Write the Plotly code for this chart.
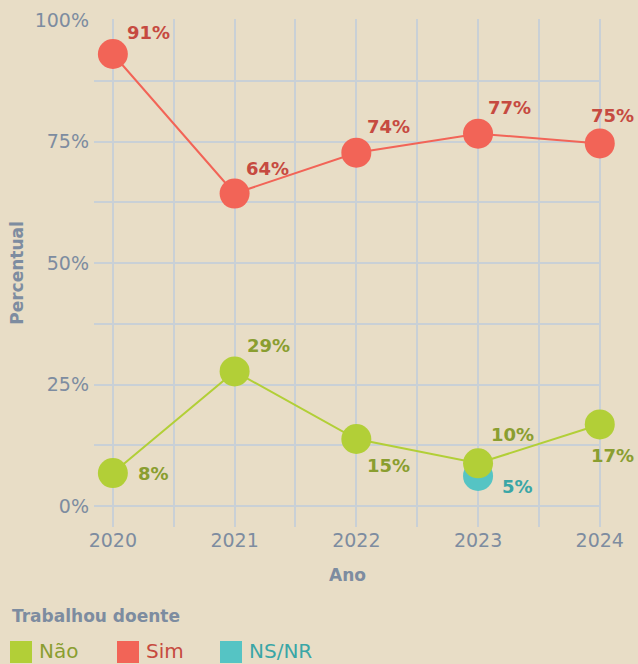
import plotly.graph_objects as go

years = [2020, 2021, 2022, 2023, 2024]
sim_values = [93.0, 64.3, 72.7, 76.6, 74.6]
sim_labels = ["91%", "64%", "74%", "77%", "75%"]
nao_values = [6.8, 27.7, 13.8, 8.8, 16.8]
nao_labels = ["8%", "29%", "15%", "10%", "17%"]
nsnr_years = [2023]
nsnr_values = [6.2]
nsnr_labels = ["5%"]
legend_names = ["Não", "Sim", "NS/NR"]
legend_title = "Trabalhou doente"

BG = "#e8ddc6"
GRID = "#c9d0d6"
AXIS_TXT = "#7d8ca0"
SIM_C, SIM_T = "#f26457", "#c64a40"
NAO_C, NAO_T = "#b2cf37", "#8a9e30"
NS_C, NS_T = "#55c4c4", "#3aa6a6"
FONT = "DejaVu Sans"

W, H = 638, 664
ML, MR, MT, MB = 94, 37, 19, 137
PW, PH = W - ML - MR, H - MT - MB

def px2paper_x(px):
    return (px - ML) / PW

def px2paper_y(py):
    return (H - MB - py) / PH

# label offsets in pixels (style)
sim_off = [(12, 22), (9, 25), (9, 26), (8, 26), (-11, 28)]
nao_off = [(23, 0), (10, 26), (9, -26), (11, 29), (-11, -31)]
ns_off = [(22, -11)]

fig = go.Figure()

def add_series(xs, ys, color, name):
    fig.add_trace(go.Scatter(
        x=xs, y=ys, mode="lines+markers", name=name, showlegend=False,
        line=dict(color=color, width=2),
        marker=dict(color=color, size=30, line=dict(width=0)),
        cliponaxis=False, hoverinfo="skip"))

add_series(nsnr_years, nsnr_values, NS_C, "NS/NR")
add_series(years, sim_values, SIM_C, "Sim")
add_series(years, nao_values, NAO_C, "Não")

annotations = []
def add_labels(xs, ys, labels, offs, color):
    for x, y, t, (dx, dy) in zip(xs, ys, labels, offs):
        annotations.append(dict(
            x=x, y=y, xref="x", yref="y", text=t, showarrow=False,
            xanchor="left", yanchor="middle", xshift=dx, yshift=dy,
            font=dict(family=FONT, size=18, color=color, weight="bold")))

add_labels(years, sim_values, sim_labels, sim_off, SIM_T)
add_labels(years, nao_values, nao_labels, nao_off, NAO_T)
add_labels(nsnr_years, nsnr_values, nsnr_labels, ns_off, NS_T)

# legend (drawn manually)
annotations.append(dict(
    x=px2paper_x(10), y=px2paper_y(616), xref="paper", yref="paper",
    xanchor="left", yanchor="middle", showarrow=False, text=f"<b>{legend_title}</b>",
    font=dict(family=FONT, size=17, color=AXIS_TXT)))
shapes = []
leg_sq_x = [10, 117, 220]
leg_colors = [NAO_C, SIM_C, NS_C]
leg_tcolors = [NAO_T, SIM_T, NS_T]
for name, sx, c, tc in zip(legend_names, leg_sq_x, leg_colors, leg_tcolors):
    shapes.append(dict(type="rect", xref="paper", yref="paper",
                       x0=px2paper_x(sx), x1=px2paper_x(sx + 22),
                       y0=px2paper_y(641), y1=px2paper_y(663),
                       fillcolor=c, line=dict(width=0), layer="above"))
    annotations.append(dict(
        x=px2paper_x(sx + 27), y=px2paper_y(651), xref="paper", yref="paper",
        xanchor="left", yanchor="middle", showarrow=False, text=name,
        font=dict(family=FONT, size=20, color=tc)))

fig.update_layout(
    width=W, height=H,
    paper_bgcolor=BG, plot_bgcolor=BG,
    margin=dict(l=ML, r=MR, t=MT, b=MB, autoexpand=False),
    font=dict(family=FONT, color=AXIS_TXT, size=19),
    annotations=annotations,
    shapes=shapes,
    showlegend=False,
    xaxis=dict(
        range=[2019.845, 2024.01], tick0=2020, dtick=1, tickformat="d",
        showgrid=True, gridcolor=GRID, gridwidth=2,
        minor=dict(dtick=0.5, tick0=2020, showgrid=True, gridcolor=GRID, gridwidth=2),
        zeroline=False, showline=False, ticks="",
        tickfont=dict(family=FONT, size=19, color=AXIS_TXT),
        title=dict(text="<b>Ano</b>", font=dict(family=FONT, size=17, color=AXIS_TXT), standoff=19),
    ),
    yaxis=dict(
        range=[-4.3, 100.2], tick0=0, dtick=25, ticksuffix="%",
        showgrid=True, gridcolor=GRID, gridwidth=2,
        minor=dict(dtick=12.5, tick0=0, showgrid=True, gridcolor=GRID, gridwidth=2),
        zeroline=False, showline=False, ticks="", ticklabelstandoff=4,
        tickfont=dict(family=FONT, size=19, color=AXIS_TXT),
        title=dict(text="<b>Percentual</b>", font=dict(family=FONT, size=17, color=AXIS_TXT), standoff=6),
    ),
)

fig.write_html("out.html", config={"displayModeBar": False},
               post_script="document.body.style.margin='0';document.body.style.padding='0';document.body.style.overflow='hidden';")
